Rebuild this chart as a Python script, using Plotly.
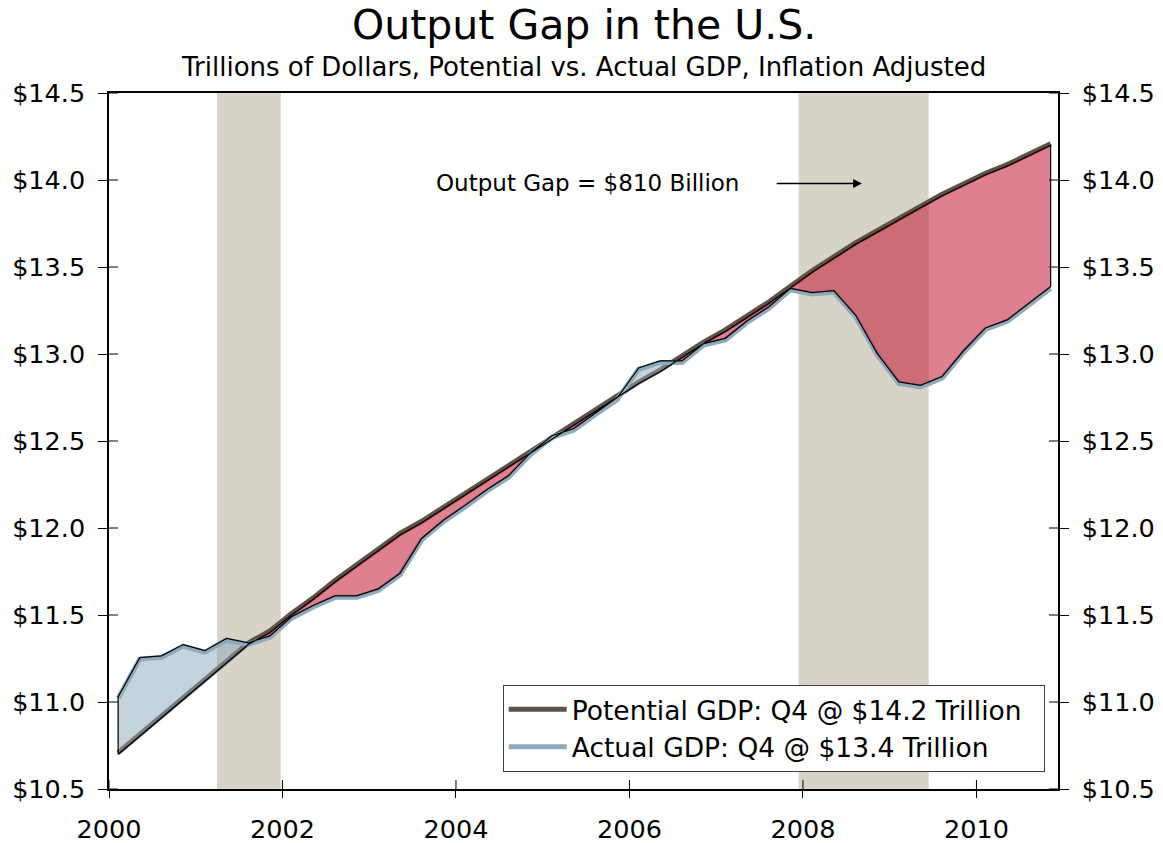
import plotly.graph_objects as go

# ---------------- data ----------------
years = list(range(2000, 2011))
quarters = [f"{y}Q{q}" for y in years for q in range(1, 5)]

potential_gdp = [10.70, 10.805, 10.91, 11.015, 11.12, 11.225, 11.33, 11.40,
                 11.50, 11.59, 11.69, 11.78, 11.87, 11.96, 12.03, 12.11,
                 12.19, 12.27, 12.35, 12.43, 12.51, 12.59, 12.67, 12.75,
                 12.83, 12.90, 12.98, 13.06, 13.13, 13.21, 13.29, 13.38,
                 13.47, 13.55, 13.63, 13.70, 13.77, 13.84, 13.91, 13.97,
                 14.03, 14.08, 14.14, 14.20]

actual_gdp = [11.03, 11.255, 11.265, 11.33, 11.295, 11.365, 11.34, 11.38,
              11.49, 11.555, 11.61, 11.61, 11.65, 11.74, 11.94, 12.045,
              12.13, 12.22, 12.30, 12.43, 12.53, 12.57, 12.66, 12.745,
              12.92, 12.96, 12.96, 13.06, 13.09, 13.19, 13.27, 13.377,
              13.353, 13.364, 13.224, 13.004, 12.84, 12.82, 12.87, 13.02,
              13.15, 13.196, 13.29, 13.387]

recession_start = [2001.245, 2007.95]
recession_end = [2001.98, 2009.45]

y_tick_vals = [10.5, 11.0, 11.5, 12.0, 12.5, 13.0, 13.5, 14.0, 14.5]
y_tick_text = ["$10.5", "$11.0", "$11.5", "$12.0", "$12.5", "$13.0", "$13.5", "$14.0", "$14.5"]
x_tick_vals = [2000, 2002, 2004, 2006, 2008, 2010]

title_text = "Output Gap in the U.S."
subtitle_text = "Trillions of Dollars, Potential vs. Actual GDP, Inflation Adjusted"
gap_text = "Output Gap = $810 Billion"
potential_name = "Potential GDP: Q4 @ $14.2 Trillion"
actual_name = "Actual GDP: Q4 @ $13.4 Trillion"

# ---------------- styling ----------------
FONT = "DejaVu Sans"
BROWN = "#5E5246"
BLUE = "#8FAABB"
RED_FILL = "rgba(195,24,51,0.55)"
BLUE_FILL = "rgba(139,167,185,0.5)"
TAN = "#D7D3C7"
X_RANGE = [2000, 2010.94]
Y_RANGE = [10.5, 14.5]
SHIFT = 0.0086  # ~1.5 px visual offset of the two thick lines
PAD = "\u00a0\u00a0"  # right padding inside the legend box


def qpos(label):
    y, q = label.split("Q")
    return int(y) + (int(q) - 1) * 0.25 + 0.105


x = [qpos(q) for q in quarters]

# ---- split gap into regions (actual above / below potential) ----
xs, ya, yp = [], [], []
n = len(x)
for i in range(n):
    xs.append(x[i]); ya.append(actual_gdp[i]); yp.append(potential_gdp[i])
    if i < n - 1:
        d0 = actual_gdp[i] - potential_gdp[i]
        d1 = actual_gdp[i + 1] - potential_gdp[i + 1]
        if d0 * d1 < 0:
            t = d0 / (d0 - d1)
            xc = x[i] + t * (x[i + 1] - x[i])
            yc = potential_gdp[i] + t * (potential_gdp[i + 1] - potential_gdp[i])
            xs.append(xc); ya.append(yc); yp.append(yc)

regions = {1: ([], []), -1: ([], [])}
j = 0
m = len(xs)
while j < m - 1:
    s = (ya[j] - yp[j]) + (ya[j + 1] - yp[j + 1])
    sign = 1 if s > 0 else (-1 if s < 0 else 0)
    k = j
    while k < m - 1:
        s2 = (ya[k] - yp[k]) + (ya[k + 1] - yp[k + 1])
        sg2 = 1 if s2 > 0 else (-1 if s2 < 0 else 0)
        if sg2 != sign:
            break
        k += 1
    if sign != 0:
        px = xs[j:k + 1] + xs[j:k + 1][::-1]
        py = ya[j:k + 1] + yp[j:k + 1][::-1]
        rx, ry = regions[sign]
        if rx:
            rx.append(None); ry.append(None)
        rx.extend(px + [px[0]]); ry.extend(py + [py[0]])
    j = k

fig = go.Figure()

# thick lines (slightly offset, drawn on hidden overlay axes)
fig.add_trace(go.Scatter(x=x, y=potential_gdp, mode="lines", name=potential_name + PAD,
                         line=dict(color=BROWN, width=5), yaxis="y4",
                         hoverinfo="skip"))
fig.add_trace(go.Scatter(x=x, y=actual_gdp, mode="lines", name=actual_name + PAD,
                         line=dict(color=BLUE, width=5), yaxis="y5",
                         hoverinfo="skip"))

# gap fills
fig.add_trace(go.Scatter(x=regions[-1][0], y=regions[-1][1], mode="lines",
                         fill="toself", fillcolor=RED_FILL,
                         line=dict(color="black", width=1.2),
                         showlegend=False, hoverinfo="skip", yaxis="y6",
                         connectgaps=False))
fig.add_trace(go.Scatter(x=regions[1][0], y=regions[1][1], mode="lines",
                         fill="toself", fillcolor=BLUE_FILL,
                         line=dict(color="black", width=1.2),
                         showlegend=False, hoverinfo="skip", yaxis="y6",
                         connectgaps=False))

# invisible anchor so the right label axis is rendered
fig.add_trace(go.Scatter(x=[x[0]], y=[actual_gdp[0]], mode="markers",
                         marker=dict(opacity=0, size=1), yaxis="y2",
                         showlegend=False, hoverinfo="skip"))

# recession shading
for x0, x1 in zip(recession_start, recession_end):
    fig.add_shape(type="rect", xref="x", yref="paper", x0=x0, x1=x1, y0=0, y1=1,
                  fillcolor=TAN, line=dict(width=0), layer="below")

# inner halves of the crossing ticks
for tv in x_tick_vals:
    fig.add_shape(type="line", xref="x", yref="paper", x0=tv, x1=tv,
                  ysizemode="pixel", yanchor=0, y0=0, y1=9,
                  line=dict(color="black", width=1))
for tv in y_tick_vals:
    fig.add_shape(type="line", xref="paper", yref="y", y0=tv, y1=tv,
                  xsizemode="pixel", xanchor=0, x0=0, x1=9,
                  line=dict(color="black", width=1))
    fig.add_shape(type="line", xref="paper", yref="y", y0=tv, y1=tv,
                  xsizemode="pixel", xanchor=1, x0=-9, x1=0,
                  line=dict(color="black", width=1))

# annotations
fig.add_annotation(x=2005.52, y=13.985, xref="x", yref="y", text=gap_text,
                   showarrow=False, font=dict(family=FONT, size=23, color="black"))
fig.add_annotation(x=2008.68, y=13.98, ax=2007.68, ay=13.98, xref="x", yref="y",
                   axref="x", ayref="y", text="", showarrow=True, arrowhead=2,
                   arrowsize=1.1, arrowwidth=1.6, arrowcolor="black")
fig.add_annotation(x=0.5, y=1 + (93 - 25) / 696, xref="paper", yref="paper",
                   text=title_text, showarrow=False, yanchor="middle",
                   font=dict(family=FONT, size=41, color="black"))
fig.add_annotation(x=0.5, y=1 + (93 - 67) / 696, xref="paper", yref="paper",
                   text=subtitle_text, showarrow=False, yanchor="middle",
                   font=dict(family=FONT, size=26, color="black"))

tickfont = dict(family=FONT, size=25.5, color="black")
fig.update_layout(
    width=1163, height=843,
    margin=dict(l=109, r=105, t=93, b=54, autoexpand=False),
    paper_bgcolor="white", plot_bgcolor="white",
    font=dict(family=FONT, color="black"),
    showlegend=True,
    legend=dict(x=0.986, y=0.025, xanchor="right", yanchor="bottom",
                bgcolor="white", bordercolor="#404040", borderwidth=1,
                font=dict(family=FONT, size=26.5, color="black"),
                itemwidth=58, tracegroupgap=0),
    xaxis=dict(range=X_RANGE, tickvals=x_tick_vals, ticks="outside", ticklen=7,
               tickcolor="black", showline=True, linecolor="black", linewidth=1.5,
               mirror=True, showgrid=False, zeroline=False, tickfont=tickfont,
               ticklabelstandoff=10, automargin=False),
    yaxis=dict(range=Y_RANGE, tickvals=y_tick_vals, ticktext=y_tick_text,
               ticks="outside", ticklen=9, tickcolor="black", showline=True,
               linecolor="black", linewidth=1.5, showgrid=False, zeroline=False,
               tickfont=tickfont, ticklabelstandoff=8, automargin=False),
    yaxis2=dict(range=Y_RANGE, overlaying="y", side="right", anchor="x",
                tickvals=y_tick_vals, ticktext=y_tick_text, ticks="outside",
                ticklen=9, tickcolor="black", showline=True, linecolor="black",
                linewidth=1.5, showgrid=False, zeroline=False, tickfont=tickfont,
                ticklabelstandoff=8, automargin=False),
    yaxis4=dict(range=[Y_RANGE[0] - SHIFT, Y_RANGE[1] - SHIFT], overlaying="y",
                visible=False),
    yaxis5=dict(range=[Y_RANGE[0] + SHIFT, Y_RANGE[1] + SHIFT], overlaying="y",
                visible=False),
    yaxis6=dict(range=Y_RANGE, overlaying="y", visible=False),
)

fig.write_html("out.html", post_script="document.body.style.margin='0';",
               config={"displayModeBar": False})
